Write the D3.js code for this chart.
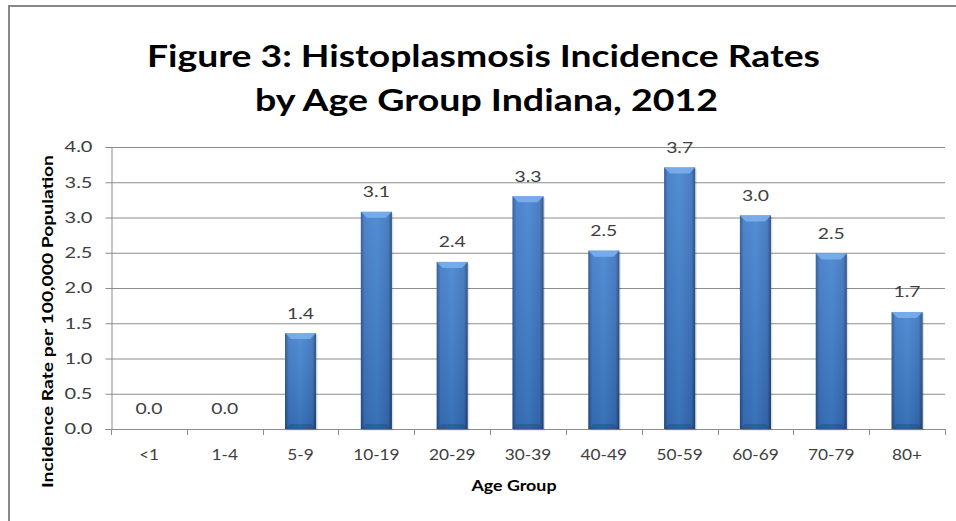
<!DOCTYPE html>
<html>
<head>
<meta charset="utf-8">
<script src="https://cdn.jsdelivr.net/npm/d3@7"></script>
<style>
  html, body { margin: 0; padding: 0; background: #fff; }
  svg { display: block; }
</style>
</head>
<body>
<svg id="chart" width="956" height="521"></svg>
<script>
const categories = ["<1", "1-4", "5-9", "10-19", "20-29", "30-39", "40-49", "50-59", "60-69", "70-79", "80+"];
const values = [0, 0, 1.36, 3.08, 2.37, 3.30, 2.53, 3.71, 3.03, 2.49, 1.66];
const yTicks = [0, 0.5, 1.0, 1.5, 2.0, 2.5, 3.0, 3.5, 4.0];
const titleLines = ["Figure 3: Histoplasmosis Incidence Rates", "by Age Group Indiana, 2012"];
const xTitle = "Age Group";
const yTitle = "Incidence Rate per 100,000 Population";

(function () {
const svg = d3.select("#chart");
const FONT = "Lato, 'Open Sans', sans-serif";
const pLeft = 111, pRight = 945, pTop = 147, pBottom = 429;

// horizontally widen text around its anchor point (the source image is stretched)
function widen(sel, f) {
  sel.each(function () {
    const ax = +(this.getAttribute("x") || 0);
    this.setAttribute("transform", `translate(${ax},0) scale(${f},1) translate(${-ax},0)`);
  });
}
function factorFor(sel, sampleText, targetW) {
  let w = null;
  sel.each(function () { if (this.textContent === sampleText) w = this.getComputedTextLength(); });
  return w ? targetW / w : 1.25;
}

// frame
svg.append("path")
  .attr("d", "M9,530 L9,6 L960,6")
  .attr("fill", "none").attr("stroke", "#888").attr("stroke-width", 2);

const x = d3.scaleBand().domain(categories).range([pLeft, pRight]).padding(0);
const y = d3.scaleLinear().domain([0, 4]).range([pBottom, pTop]);

// defs: gradients
const defs = svg.append("defs");
const gH = defs.append("linearGradient").attr("id", "barH").attr("x1", 0).attr("x2", 1).attr("y1", 0).attr("y2", 0);
[["0%", "#24508c"], ["12%", "#3a76c4"], ["50%", "#4081d0"], ["88%", "#3870bb"], ["100%", "#1f4478"]]
  .forEach(([o, c]) => gH.append("stop").attr("offset", o).attr("stop-color", c));
const gV = defs.append("linearGradient").attr("id", "barV").attr("x1", 0).attr("x2", 0).attr("y1", 0).attr("y2", 1);
[["0%", "#ffffff", 0.10], ["100%", "#000000", 0.12]]
  .forEach(([o, c, op]) => gV.append("stop").attr("offset", o).attr("stop-color", c).attr("stop-opacity", op));

// gridlines
svg.append("g").selectAll("line").data(yTicks).join("line")
  .attr("x1", pLeft).attr("x2", pRight)
  .attr("y1", d => y(d) + 0.5).attr("y2", d => y(d) + 0.5)
  .attr("stroke", "#8c8c8c").attr("stroke-width", 1);

// y axis
const yAxis = svg.append("g").attr("transform", `translate(${pLeft + 0.5},0)`)
  .call(d3.axisLeft(y).tickValues(yTicks).tickFormat(d3.format(".1f")).tickSize(6).tickPadding(13));
yAxis.select(".domain").attr("stroke", "#8c8c8c");
yAxis.selectAll(".tick line").attr("stroke", "#8c8c8c");
const yTxt = yAxis.selectAll("text").attr("font-family", FONT).attr("font-size", 15).attr("fill", "#404040");
widen(yTxt, factorFor(yTxt, "4.0", 28));

// x axis labels
const xAxis = svg.append("g").attr("transform", `translate(0,${pBottom})`)
  .call(d3.axisBottom(x).tickSize(0).tickPadding(20.5));
xAxis.select(".domain").attr("stroke", "#8c8c8c");
const xTxt = xAxis.selectAll("text").attr("font-family", FONT).attr("font-size", 15).attr("fill", "#404040");
widen(xTxt, factorFor(xTxt, "10-19", 46.5));
// boundary tick marks
const bounds = categories.map(c => x(c)).concat([x.range()[1]]);
svg.append("g").selectAll("line").data(bounds).join("line")
  .attr("x1", d => Math.round(d) + 0.5).attr("x2", d => Math.round(d) + 0.5)
  .attr("y1", pBottom).attr("y2", pBottom + 6)
  .attr("stroke", "#8c8c8c");

// bars
const bw = x.bandwidth() * 0.41;
const bars = svg.append("g").selectAll("g").data(values.map((v, i) => ({ v, c: categories[i] })).filter(d => d.v > 0)).join("g");
bars.append("rect")
  .attr("x", d => x(d.c) + x.bandwidth() / 2 - bw / 2 + 1.5)
  .attr("y", d => y(d.v) + 1.5)
  .attr("width", bw).attr("height", d => pBottom - y(d.v))
  .attr("fill", "#000").attr("opacity", 0.12);
bars.append("rect")
  .attr("x", d => x(d.c) + x.bandwidth() / 2 - bw / 2)
  .attr("y", d => y(d.v))
  .attr("width", bw).attr("height", d => pBottom - y(d.v))
  .attr("fill", "url(#barH)");
bars.append("rect")
  .attr("x", d => x(d.c) + x.bandwidth() / 2 - bw / 2)
  .attr("y", d => y(d.v))
  .attr("width", bw).attr("height", d => pBottom - y(d.v))
  .attr("fill", "url(#barV)");
// top bevel highlight
bars.append("path")
  .attr("d", d => {
    const x0 = x(d.c) + x.bandwidth() / 2 - bw / 2, x1 = x0 + bw, t = y(d.v);
    return `M${x0},${t} L${x1},${t} L${x1 - 6},${t + 6} L${x0 + 6},${t + 6} Z`;
  })
  .attr("fill", "#7db2ee").attr("opacity", 0.85);
// bottom bevel shade
bars.append("path")
  .attr("d", d => {
    const x0 = x(d.c) + x.bandwidth() / 2 - bw / 2, x1 = x0 + bw;
    return `M${x0},${pBottom} L${x1},${pBottom} L${x1 - 5},${pBottom - 5} L${x0 + 5},${pBottom - 5} Z`;
  })
  .attr("fill", "#1e416f").attr("opacity", 0.35);

// value labels
const vTxt = svg.append("g").selectAll("text").data(values).join("text")
  .attr("x", (d, i) => x(categories[i]) + x.bandwidth() / 2)
  .attr("y", d => y(d) - 14.5)
  .attr("text-anchor", "middle")
  .attr("font-family", FONT).attr("font-size", 15.5).attr("fill", "#404040")
  .text(d => d3.format(".1f")(d));
widen(vTxt, factorFor(vTxt, "3.0", 27));

// title
const titleCenters = [483.5, 486.5];
const titleWidths = [673, 463];
const titleBase = [66.5, 111];
titleLines.forEach((t, i) => {
  svg.append("text")
    .attr("x", titleCenters[i]).attr("y", titleBase[i])
    .attr("text-anchor", "middle")
    .attr("font-family", FONT).attr("font-weight", "bold").attr("font-size", 30.5)
    .attr("textLength", titleWidths[i]).attr("lengthAdjust", "spacingAndGlyphs")
    .attr("fill", "#000")
    .text(t);
});

// axis titles
svg.append("text")
  .attr("x", 514).attr("y", 491)
  .attr("text-anchor", "middle")
  .attr("font-family", FONT).attr("font-weight", "bold").attr("font-size", 14.5)
  .attr("textLength", 85).attr("lengthAdjust", "spacingAndGlyphs")
  .attr("fill", "#000").text(xTitle);
svg.append("text")
  .attr("transform", "translate(52.5,321.5) rotate(-90)")
  .attr("text-anchor", "middle")
  .attr("font-family", FONT).attr("font-weight", "bold").attr("font-size", 14.5)
  .attr("textLength", 333).attr("lengthAdjust", "spacingAndGlyphs")
  .attr("fill", "#000").text(yTitle);
})();
</script>
</body>
</html>
